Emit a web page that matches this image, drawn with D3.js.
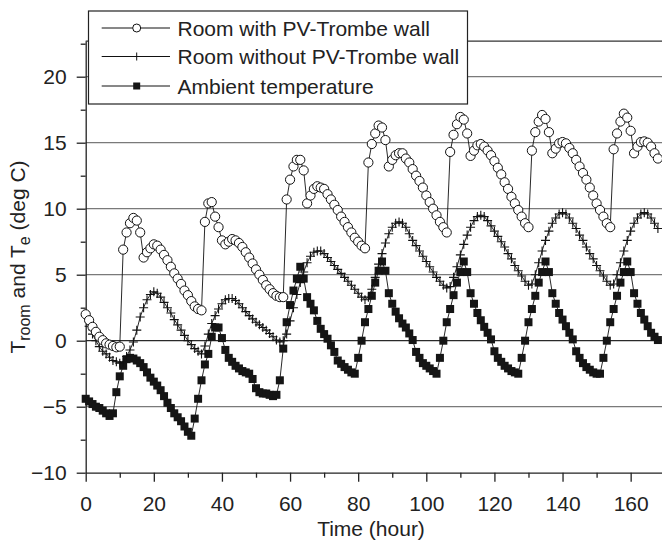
<!DOCTYPE html>
<html>
<head>
<meta charset="utf-8">
<script src="https://cdn.jsdelivr.net/npm/d3@7/dist/d3.min.js"></script>
<style>
	body{margin:0;background:#fff;}
	svg{display:block;}
</style>
</head>
<body>
<div class="chart"></div>
<script>
/*  ======== Data (hourly) ================================== */
var hours = d3.range(0, 169);
var withPV = [
	2.0, 1.55, 1.05, 0.67, 0.3, 0.04, -0.2, -0.3, -0.4, -0.5, -0.45, 6.9, 8.2, 8.9, 9.3, 9.1, 8.2, 6.3, 6.7, 7.0, 7.3, 7.2, 6.9, 6.5,
	6.1, 5.6, 5.1, 4.7, 4.3, 3.8, 3.45, 3.0, 2.6, 2.4, 2.3, 9.0, 10.4, 10.5, 9.4, 8.6, 7.6, 7.3, 7.5, 7.7, 7.6, 7.4, 7.1, 6.7,
	6.3, 5.85, 5.4, 5.0, 4.6, 4.2, 3.9, 3.6, 3.4, 3.3, 3.3, 10.7, 12.2, 13.2, 13.7, 13.7, 12.9, 10.4, 11.0, 11.5, 11.7, 11.6, 11.5, 11.1,
	10.7, 10.3, 9.9, 9.4, 9.0, 8.6, 8.2, 7.8, 7.5, 7.2, 7.0, 13.5, 14.9, 15.7, 16.3, 16.15, 15.2, 13.2, 13.7, 14.05, 14.2, 14.2, 13.8, 13.5,
	13.0, 12.5, 12.1, 11.6, 11.0, 10.5, 10.0, 9.5, 9.0, 8.6, 8.2, 14.3, 15.6, 16.4, 16.95, 16.75, 15.7, 14.0, 14.4, 14.8, 14.9, 14.7, 14.4, 14.05,
	13.6, 13.1, 12.6, 12.0, 11.5, 10.9, 10.4, 9.9, 9.4, 8.9, 8.6, 14.4, 15.8, 16.6, 17.1, 16.8, 15.8, 14.2, 14.55, 14.95, 15.05, 14.95, 14.6, 14.2,
	13.7, 13.2, 12.7, 12.2, 11.6, 11.0, 10.4, 9.9, 9.4, 8.9, 8.6, 14.5, 15.7, 16.6, 17.2, 16.9, 15.9, 14.2, 14.7, 15.05, 15.1, 15.0, 14.7, 14.2, 13.8
];
var withoutPV = [
	1.9, 1.1, 0.5, 0.0, -0.45, -0.8, -1.0, -1.25, -1.5, -1.6, -1.7, -1.6, -1.2, -0.7, -0.1, 0.8, 1.8, 2.5, 3.1, 3.5, 3.7, 3.6, 3.3, 2.9,
	2.5, 2.1, 1.6, 1.2, 0.8, 0.4, 0.0, -0.3, -0.6, -0.8, -1.0, -0.4, 0.5, 1.3, 1.9, 2.4, 2.8, 3.1, 3.2, 3.2, 3.05, 2.8, 2.5, 2.2,
	1.9, 1.65, 1.4, 1.2, 1.0, 0.8, 0.55, 0.3, 0.05, -0.1, 0.0, 0.5, 1.5, 2.5, 3.5, 4.4, 5.2, 5.9, 6.4, 6.7, 6.8, 6.8, 6.6, 6.3,
	6.0, 5.7, 5.4, 5.1, 4.8, 4.5, 4.2, 3.9, 3.6, 3.3, 3.1, 3.3, 3.9, 4.8, 5.8, 6.6, 7.4, 8.1, 8.6, 8.9, 9.0, 8.9, 8.6, 8.1,
	7.6, 7.2, 6.8, 6.4, 6.0, 5.6, 5.2, 4.8, 4.5, 4.2, 4.0, 4.1, 4.8, 5.6, 6.5, 7.3, 8.0, 8.6, 9.1, 9.4, 9.5, 9.4, 9.1, 8.7,
	8.3, 7.9, 7.5, 7.1, 6.6, 6.2, 5.7, 5.3, 4.9, 4.5, 4.2, 4.3, 5.0, 5.9, 6.8, 7.6, 8.3, 8.9, 9.3, 9.6, 9.7, 9.6, 9.3, 8.9,
	8.5, 8.0, 7.6, 7.1, 6.6, 6.2, 5.7, 5.3, 4.9, 4.5, 4.2, 4.3, 5.0, 5.9, 6.8, 7.6, 8.3, 8.9, 9.3, 9.6, 9.7, 9.6, 9.3, 8.9, 8.5
];
var ambient = [
	-4.4, -4.6, -4.8, -5.0, -5.1, -5.3, -5.5, -5.7, -5.5, -3.9, -2.7, -1.9, -1.4, -1.3, -1.35, -1.5, -1.7, -2.0, -2.4, -2.8, -3.1, -3.4, -3.75, -4.2,
	-4.7, -5.1, -5.5, -5.8, -6.1, -6.5, -6.9, -7.2, -5.9, -4.4, -3.0, -1.8, -1.0, 0.3, 1.0, 1.0, 0.2, -0.7, -1.3, -1.6, -1.9, -2.1, -2.3, -2.4,
	-2.5, -2.9, -3.6, -3.9, -4.0, -4.0, -4.1, -4.2, -4.1, -3.0, -0.6, 1.4, 2.7, 3.8, 4.7, 5.6, 4.7, 3.3, 2.8, 2.3, 1.5, 0.9, 0.5, 0.15,
	-0.35, -0.85, -1.5, -1.75, -2.0, -2.2, -2.4, -2.5, -1.3, 0.0, 1.4, 2.4, 3.4, 4.4, 5.3, 6.0, 5.3, 3.6, 2.8, 2.2, 1.7, 1.3, 1.0, 0.55,
	0.05, -0.85, -1.3, -1.7, -1.9, -2.1, -2.3, -2.5, -1.3, 0.0, 1.4, 2.4, 3.45, 4.4, 5.2, 6.0, 5.2, 3.6, 2.8, 2.1, 1.55, 1.05, 0.6, 0.1,
	-0.8, -1.3, -1.6, -1.9, -2.1, -2.3, -2.4, -2.5, -1.3, 0.0, 1.4, 2.4, 3.4, 4.4, 5.2, 6.0, 5.2, 3.6, 2.8, 2.1, 1.6, 1.1, 0.6, 0.1,
	-0.8, -1.3, -1.7, -2.0, -2.2, -2.4, -2.5, -2.5, -1.3, 0.0, 1.4, 2.4, 3.4, 4.4, 5.2, 6.0, 5.2, 3.6, 2.8, 2.1, 1.6, 1.1, 0.6, 0.3, 0.05
];
var xTicks = [0, 20, 40, 60, 80, 100, 120, 140, 160];
var xMinorTicks = [10, 30, 50, 70, 90, 110, 130, 150, 170];
var yTicks = [-10, -5, 0, 5, 10, 15, 20];
var yMinorTicks = [-7.5, -2.5, 2.5, 7.5, 12.5, 17.5, 22.5];
var gridValues = [-5, 0, 5, 10, 15, 20];
var legendLabels = ['Room with PV-Trombe wall', 'Room without PV-Trombe wall', 'Ambient temperature'];
/*  ======== Data ============= */

var width = 662, height = 542;
var fontFamily = '"Liberation Sans", Arial, Helvetica, sans-serif';
var fontSize = 21;
var left = 85.7, bottom = 472.7;

var svg = d3.select('.chart')
			.append('svg')
			.attr('width', width)
			.attr('height', height);

var x = d3.scaleLinear().domain([0, 170]).range([left, left + 170*3.406]);
var y = d3.scaleLinear().domain([-10, 22.7]).range([bottom, bottom - 32.7*13.2]);

// grid lines
svg.append('g').selectAll('line')
	.data(gridValues)
	.enter().append('line')
	.attr('x1', left).attr('x2', width)
	.attr('y1', function(d){ return y(d); })
	.attr('y2', function(d){ return y(d); })
	.attr('stroke', function(d){ return d == 0 ? '#2a2a2a' : '#7a7a7a'; })
	.attr('stroke-width', 1.3);
// top frame
svg.append('line')
	.attr('x1', left).attr('x2', width)
	.attr('y1', y(22.7)).attr('y2', y(22.7))
	.attr('stroke', '#333').attr('stroke-width', 1.2);

// axes
function styleAxis(g){
	g.select('.domain').attr('stroke', '#222').attr('stroke-width', 1.3);
	g.selectAll('.tick line').attr('stroke', '#222').attr('stroke-width', 1.3);
	g.selectAll('.tick text').attr('font-size', fontSize).attr('font-family', fontFamily).attr('fill', '#222');
}
var xAxis = svg.append('g')
	.attr('transform', 'translate(0,' + bottom + ')')
	.call(d3.axisBottom(x).tickValues(xTicks).tickSize(9).tickSizeOuter(0).tickPadding(14));
styleAxis(xAxis);
var xMinor = svg.append('g')
	.attr('transform', 'translate(0,' + bottom + ')')
	.call(d3.axisBottom(x).tickValues(xMinorTicks).tickSize(5).tickSizeOuter(0).tickFormat(''));
styleAxis(xMinor);
xMinor.select('.domain').remove();

var yAxis = svg.append('g')
	.attr('transform', 'translate(' + left + ',0)')
	.call(d3.axisLeft(y).tickValues(yTicks).tickSize(9).tickSizeOuter(0).tickPadding(10));
styleAxis(yAxis);
var yMinor = svg.append('g')
	.attr('transform', 'translate(' + left + ',0)')
	.call(d3.axisLeft(y).tickValues(yMinorTicks).tickSize(5).tickSizeOuter(0).tickFormat(''));
styleAxis(yMinor);
yMinor.select('.domain').remove();

// axis titles
svg.append('text')
	.attr('x', 371).attr('y', 536)
	.attr('text-anchor', 'middle')
	.attr('font-size', fontSize).attr('font-family', fontFamily).attr('fill', '#222')
	.text('Time (hour)');

var ylab = svg.append('text')
	.attr('transform', 'translate(25,257) rotate(-90)')
	.attr('text-anchor', 'middle')
	.attr('font-size', fontSize).attr('font-family', fontFamily).attr('fill', '#222');
ylab.append('tspan').text('T');
ylab.append('tspan').attr('font-size', 16).attr('dy', 5).text('room');
ylab.append('tspan').attr('dy', -5).text(' and T');
ylab.append('tspan').attr('font-size', 16).attr('dy', 5).text('e');
ylab.append('tspan').attr('dy', -5).text(' (deg C)');

// series
var line = d3.line()
	.x(function(d, i){ return x(hours[i]); })
	.y(function(d){ return y(d); });

function drawLine(values){
	svg.append('path')
		.datum(values)
		.attr('d', line)
		.attr('fill', 'none')
		.attr('stroke', '#111')
		.attr('stroke-width', 0.9);
}
function drawSquares(g, values, size){
	g.selectAll('rect')
		.data(values)
		.enter().append('rect')
		.attr('x', function(d, i){ return x(hours[i]) - size/2; })
		.attr('y', function(d){ return y(d) - size/2; })
		.attr('width', size).attr('height', size)
		.attr('fill', '#151515');
}
function drawPluses(g, values, size){
	g.selectAll('path')
		.data(values)
		.enter().append('path')
		.attr('d', function(d, i){
			var cx = x(hours[i]), cy = y(d);
			return 'M' + (cx - size) + ',' + cy + 'H' + (cx + size) + 'M' + cx + ',' + (cy - size) + 'V' + (cy + size);
		})
		.attr('stroke', '#111')
		.attr('stroke-width', 1.1);
}
function drawCircles(g, values, r){
	g.selectAll('circle')
		.data(values)
		.enter().append('circle')
		.attr('cx', function(d, i){ return x(hours[i]); })
		.attr('cy', function(d){ return y(d); })
		.attr('r', r)
		.attr('fill', 'white')
		.attr('stroke', '#111')
		.attr('stroke-width', 1);
}

drawLine(ambient);
drawSquares(svg.append('g'), ambient, 8);
drawLine(withoutPV);
drawPluses(svg.append('g'), withoutPV, 4.5);
drawLine(withPV);
drawCircles(svg.append('g'), withPV, 4.6);

// legend
var legend = svg.append('g');
legend.append('rect')
	.attr('x', 88.5).attr('y', 11)
	.attr('width', 379).attr('height', 93)
	.attr('fill', 'white')
	.attr('stroke', '#222')
	.attr('stroke-width', 1.2);
var legendY = [28, 56.5, 86];
for(var i = 0; i < legendLabels.length; i++){
	legend.append('line')
		.attr('x1', 101.7).attr('x2', 170)
		.attr('y1', legendY[i]).attr('y2', legendY[i])
		.attr('stroke', '#111').attr('stroke-width', 1);
	legend.append('text')
		.attr('x', 177.5).attr('y', legendY[i])
		.attr('dy', '0.36em')
		.attr('font-size', fontSize).attr('font-family', fontFamily).attr('fill', '#222')
		.text(legendLabels[i]);
}
legend.append('circle')
	.attr('cx', 136.7).attr('cy', legendY[0]).attr('r', 4)
	.attr('fill', 'white').attr('stroke', '#111').attr('stroke-width', 1);
legend.append('path')
	.attr('d', 'M132.7,' + legendY[1] + 'H140.7M136.7,' + (legendY[1] - 4) + 'V' + (legendY[1] + 4))
	.attr('stroke', '#111').attr('stroke-width', 1);
legend.append('rect')
	.attr('x', 136.7 - 3.5).attr('y', legendY[2] - 3.5)
	.attr('width', 7).attr('height', 7)
	.attr('fill', '#151515');
</script>
</body>
</html>
